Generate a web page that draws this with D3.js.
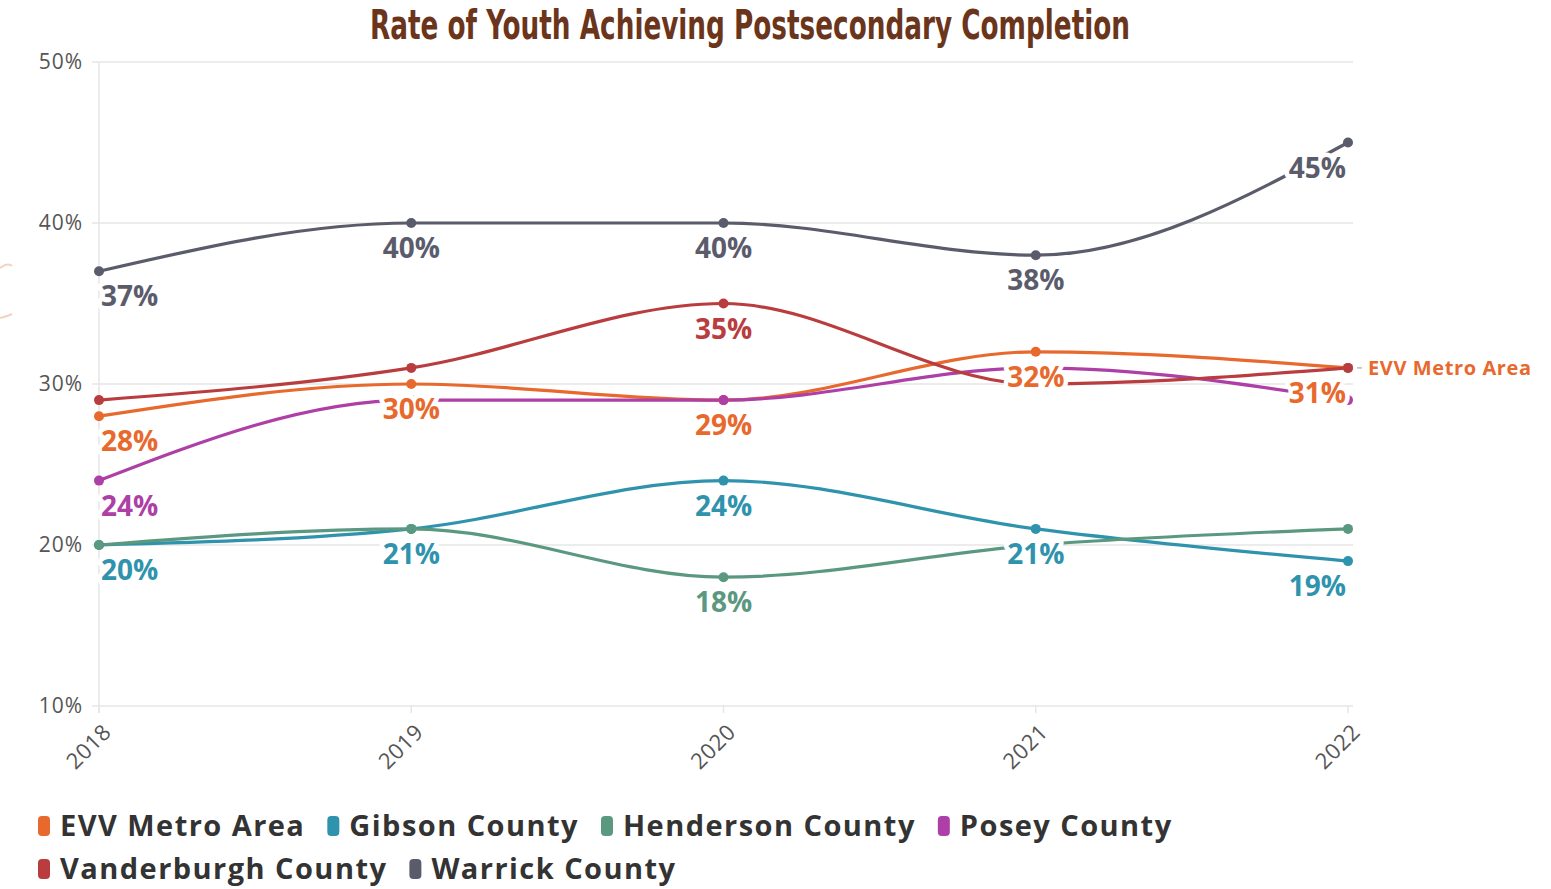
<!DOCTYPE html>
<html>
<head>
<meta charset="utf-8">
<script src="https://cdn.jsdelivr.net/npm/d3@7"></script>
<style>
  html, body { margin: 0; padding: 0; background: #fff; }
  svg { display: block; }
</style>
</head>
<body>
<svg id="chart" width="1551" height="889"></svg>
<script>
// ---- Data ----
const years = [2018, 2019, 2020, 2021, 2022];
const seriesNames = ["EVV Metro Area", "Gibson County", "Henderson County", "Posey County", "Vanderburgh County", "Warrick County"];
const evvMetro    = [28, 30, 29, 32, 31];
const gibson      = [20, 21, 24, 21, 19];
const henderson   = [20, 21, 18, 20, 21];
const posey       = [24, 29, 29, 31, 29];
const vanderburgh = [29, 31, 35, 30, 31];
const warrick     = [37, 40, 40, 38, 45];
// which years carry a visible value label (1 = labelled)
const evvLabels         = [1, 1, 1, 1, 1];
const gibsonLabels      = [1, 1, 1, 1, 1];
const hendersonLabels   = [0, 0, 1, 0, 0];
const poseyLabels       = [1, 0, 0, 0, 0];
const vanderburghLabels = [0, 0, 1, 0, 0];
const warrickLabels     = [1, 1, 1, 1, 1];
const yTicks = [10, 20, 30, 40, 50];
const colors = ["#E8692D", "#2F93AD", "#5B9880", "#AD3FA6", "#B93D3F", "#5B5C6B"];
const titleText = "Rate of Youth Achieving Postsecondary Completion";
const endLabel = "EVV Metro Area";

const seriesValues = [evvMetro, gibson, henderson, posey, vanderburgh, warrick];
const seriesLabels = [evvLabels, gibsonLabels, hendersonLabels, poseyLabels, vanderburghLabels, warrickLabels];
const series = seriesNames.map((name, i) => ({
  name, color: colors[i],
  points: years.map((y, j) => ({ year: y, value: seriesValues[i][j], label: seriesLabels[i][j] }))
}));

// ---- Layout ----
const svg = d3.select("#chart");
const x = d3.scaleLinear().domain([2018, 2022]).range([99, 1348]);
const y = d3.scaleLinear().domain([10, 50]).range([706, 62]);
const FONT = "'Open Sans', 'Noto Sans', sans-serif";

// decorative faint arc at left edge (cropped logo remnant)
svg.append("path")
  .attr("d", "M0,268 Q8,262 12,266 M0,318 Q8,316 12,314")
  .attr("fill", "none").attr("stroke", "#F2D3BF").attr("stroke-width", 2);

// Title
svg.append("text")
  .attr("x", 750).attr("y", 39)
  .attr("text-anchor", "middle")
  .attr("font-family", "'Liberation Sans Narrow', 'DejaVu Sans Condensed', sans-serif")
  .attr("font-weight", 700)
  .attr("font-size", 41)
  .attr("fill", "#6B351C")
  .attr("textLength", 760)
  .attr("lengthAdjust", "spacingAndGlyphs")
  .text(titleText);

// Gridlines
const grid = svg.append("g");
grid.selectAll("line").data(yTicks).join("line")
  .attr("x1", 92).attr("x2", 1353)
  .attr("y1", d => y(d)).attr("y2", d => y(d))
  .attr("stroke", "#E6E6E6").attr("stroke-width", 1.5);

// vertical axis line
svg.append("line")
  .attr("x1", x(2018)).attr("x2", x(2018))
  .attr("y1", y(50)).attr("y2", y(10) + 7)
  .attr("stroke", "#E6E6E6").attr("stroke-width", 1.5);

// x tick marks
svg.append("g").selectAll("line").data(years).join("line")
  .attr("x1", d => x(d)).attr("x2", d => x(d))
  .attr("y1", y(10)).attr("y2", y(10) + 7)
  .attr("stroke", "#E6E6E6").attr("stroke-width", 1.5);

// Y axis labels
svg.append("g").selectAll("text").data(yTicks).join("text")
  .attr("x", 83).attr("y", d => y(d))
  .attr("dy", "0.35em")
  .attr("text-anchor", "end")
  .attr("font-family", FONT)
  .attr("font-size", 21)
  .attr("letter-spacing", 1)
  .attr("fill", "#555")
  .text(d => d + "%");

// X axis labels
svg.append("g").selectAll("text").data(years).join("text")
  .attr("transform", d => `translate(${x(d) + 8},${y(10) + 22}) rotate(-45)`)
  .attr("text-anchor", "end")
  .attr("dy", "0.35em")
  .attr("font-family", FONT)
  .attr("font-size", 22)
  .attr("letter-spacing", 0.5)
  .attr("fill", "#555")
  .text(d => d);

// Lines
const line = d3.line()
  .x(d => x(d.year)).y(d => y(d.value))
  .curve(d3.curveMonotoneX);

const lines = svg.append("g");
series.forEach(s => {
  lines.append("path")
    .datum(s.points)
    .attr("d", line)
    .attr("fill", "none")
    .attr("stroke", s.color)
    .attr("stroke-width", 3.2)
    .attr("stroke-linecap", "round");
});
series.forEach(s => {
  lines.append("g").selectAll("circle").data(s.points).join("circle")
    .attr("cx", d => x(d.year)).attr("cy", d => y(d.value))
    .attr("r", 5)
    .attr("fill", s.color);
});

// Value labels
const labels = svg.append("g");
series.forEach(s => {
  labels.append("g").selectAll("text").data(s.points.filter(p => p.label)).join("text")
    .attr("x", d => d.year === 2018 ? x(d.year) + 2 : d.year === 2022 ? x(d.year) - 2 : x(d.year))
    .attr("y", d => y(d.value) + 35)
    .attr("text-anchor", d => d.year === 2018 ? "start" : d.year === 2022 ? "end" : "middle")
    .attr("font-family", FONT)
    .attr("font-weight", 700)
    .attr("font-size", 28)
    .attr("fill", s.color)
    .attr("stroke", "#fff")
    .attr("stroke-width", 9)
    .attr("stroke-linejoin", "round")
    .attr("paint-order", "stroke")
    .text(d => d.value + "%");
});

// End label for EVV Metro Area
const evvLast = series[0].points[series[0].points.length - 1];
svg.append("line")
  .attr("x1", x(evvLast.year) + 9).attr("x2", x(evvLast.year) + 14)
  .attr("y1", y(evvLast.value)).attr("y2", y(evvLast.value))
  .attr("stroke", "#bbb").attr("stroke-width", 1.5);
svg.append("text")
  .attr("x", x(evvLast.year) + 20).attr("y", y(evvLast.value))
  .attr("dy", "0.35em")
  .attr("font-family", FONT)
  .attr("font-weight", 700)
  .attr("font-size", 20)
  .attr("letter-spacing", 0.6)
  .attr("fill", colors[0])
  .text(endLabel);

// Legend
const legend = svg.append("g");
let lx = 38, ly = 826;
const maxX = 1250;
series.forEach(s => {
  const g = legend.append("g");
  const t = g.append("text")
    .attr("font-family", FONT)
    .attr("font-weight", 700)
    .attr("font-size", 29)
    .attr("letter-spacing", 1.45)
    .attr("fill", "#333")
    .attr("dy", "0.35em")
    .text(s.name);
  const w = t.node().getComputedTextLength() + 22;
  if (lx + w > maxX) { lx = 38; ly += 43; }
  g.append("rect")
    .attr("x", lx).attr("y", ly - 10)
    .attr("width", 12).attr("height", 20)
    .attr("rx", 4)
    .attr("fill", s.color);
  t.attr("x", lx + 22).attr("y", ly);
  lx += w + 22;
});
</script>
</body>
</html>
